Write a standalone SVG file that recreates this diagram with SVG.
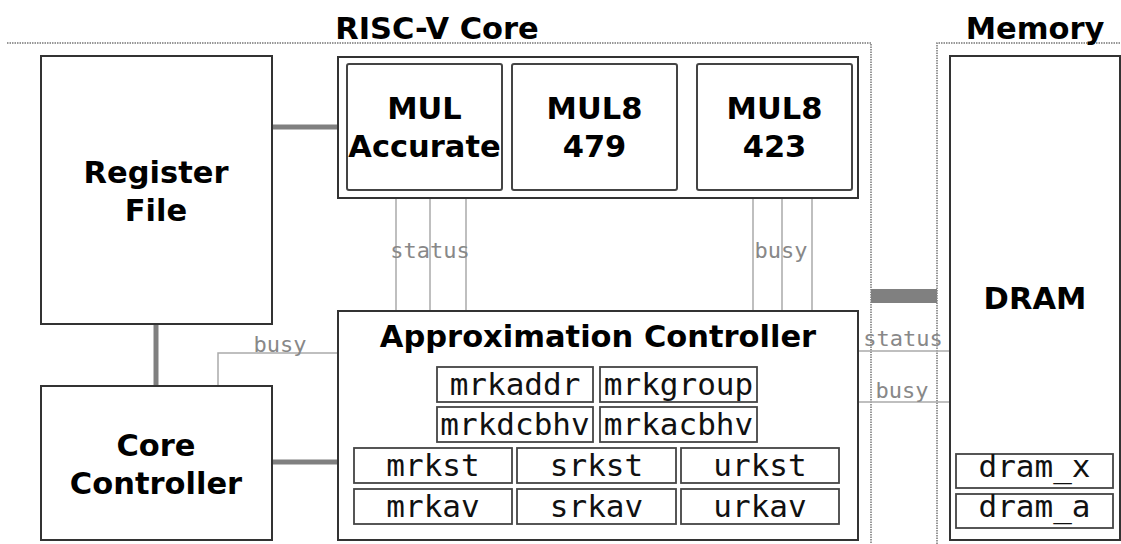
<svg xmlns="http://www.w3.org/2000/svg" width="1121" height="544" viewBox="0 0 1121 544">
<style>
.box{fill:#fff;stroke:#333;stroke-width:2}
.inner{fill:#fff;stroke:#444;stroke-width:2}
.reg{fill:#fff;stroke:#444;stroke-width:1.8}
.bold{font-family:"DejaVu Sans",Verdana,sans-serif;font-weight:bold;font-size:30.5px;fill:#000;text-anchor:middle}
.mono{font-family:"DejaVu Sans Mono","Liberation Mono",monospace;font-size:31px;fill:#111;text-anchor:middle}
.lbl{font-family:"DejaVu Sans Mono","Liberation Mono",monospace;font-size:22px;fill:#888;text-anchor:middle}
.thin{fill:none;stroke:#aaa;stroke-width:1.5}
.thick{fill:none;stroke:#808080;stroke-width:5}
.dot{fill:none;stroke:#777;stroke-width:1.5;stroke-dasharray:1.5,1}
</style>
<rect width="1121" height="544" fill="#fff"/>
<g id="regions">
<path class="dot" d="M7,43 H871 V544"/>
<path class="dot" d="M937,544 V43 H1121"/>
<text class="bold" x="437" y="39">RISC-V Core</text>
<text class="bold" x="1035" y="39">Memory</text>
</g>
<g id="connectors">
<path class="thick" d="M272,127 H338"/>
<path class="thick" d="M156,324 V386"/>
<path class="thick" d="M272,462 H338"/>
<rect x="871" y="289" width="66" height="14" fill="#808080"/>
<path class="thin" d="M396,198 V311 M430,198 V311 M466,198 V311"/>
<path class="thin" d="M753,198 V311 M782,198 V311 M812,198 V311"/>
<path class="thin" d="M338,353 H218 V386"/>
<path class="thin" d="M858,351 H950 M858,402 H950"/>
<text class="lbl" x="430" y="258">status</text>
<text class="lbl" x="781" y="258">busy</text>
<text class="lbl" x="280" y="352">busy</text>
<text class="lbl" x="903" y="346">status</text>
<text class="lbl" x="902" y="398">busy</text>
</g>
<g id="register-file">
<rect class="box" x="41" y="56" width="231" height="268"/>
<text class="bold" x="156" y="183">Register</text>
<text class="bold" x="156" y="221">File</text>
</g>
<g id="core-controller">
<rect class="box" x="41" y="386" width="231" height="154"/>
<text class="bold" x="156" y="456">Core</text>
<text class="bold" x="156" y="494">Controller</text>
</g>
<g id="multipliers">
<rect class="box" x="338" y="57" width="520" height="141"/>
</g>
<g id="mul-accurate">
<rect class="inner" x="347" y="64" width="155" height="126" rx="2"/>
<text class="bold" x="424.5" y="119">MUL</text>
<text class="bold" x="424.5" y="157">Accurate</text>
</g>
<g id="mul8-479">
<rect class="inner" x="512" y="64" width="165" height="126" rx="2"/>
<text class="bold" x="594.5" y="119">MUL8</text>
<text class="bold" x="594.5" y="157">479</text>
</g>
<g id="mul8-423">
<rect class="inner" x="697" y="64" width="155" height="126" rx="2"/>
<text class="bold" x="774.5" y="119">MUL8</text>
<text class="bold" x="774.5" y="157">423</text>
</g>
<g id="approximation-controller">
<rect class="box" x="338" y="311" width="520" height="229"/>
<text class="bold" x="598" y="347">Approximation Controller</text>
<rect class="reg" x="437" y="367" width="156" height="35"/>
<text class="mono" x="515" y="395">mrkaddr</text>
<rect class="reg" x="600" y="367" width="157" height="35"/>
<text class="mono" x="678.5" y="395">mrkgroup</text>
<rect class="reg" x="437" y="407" width="156" height="35"/>
<text class="mono" x="515" y="435">mrkdcbhv</text>
<rect class="reg" x="600" y="407" width="157" height="35"/>
<text class="mono" x="678.5" y="435">mrkacbhv</text>
<rect class="reg" x="354" y="448" width="158" height="35"/>
<text class="mono" x="433" y="476">mrkst</text>
<rect class="reg" x="517" y="448" width="159" height="35"/>
<text class="mono" x="596.5" y="476">srkst</text>
<rect class="reg" x="681" y="448" width="158" height="35"/>
<text class="mono" x="760" y="476">urkst</text>
<rect class="reg" x="354" y="489" width="158" height="35"/>
<text class="mono" x="433" y="517">mrkav</text>
<rect class="reg" x="517" y="489" width="159" height="35"/>
<text class="mono" x="596.5" y="517">srkav</text>
<rect class="reg" x="681" y="489" width="158" height="35"/>
<text class="mono" x="760" y="517">urkav</text>
</g>
<g id="dram">
<rect class="box" x="950" y="56" width="170" height="484"/>
<text class="bold" x="1035" y="309">DRAM</text>
<rect class="reg" x="956" y="454" width="157" height="34"/>
<text class="mono" x="1034.5" y="477">dram_x</text>
<rect class="reg" x="956" y="494" width="157" height="34"/>
<text class="mono" x="1034.5" y="517">dram_a</text>
</g>
</svg>
